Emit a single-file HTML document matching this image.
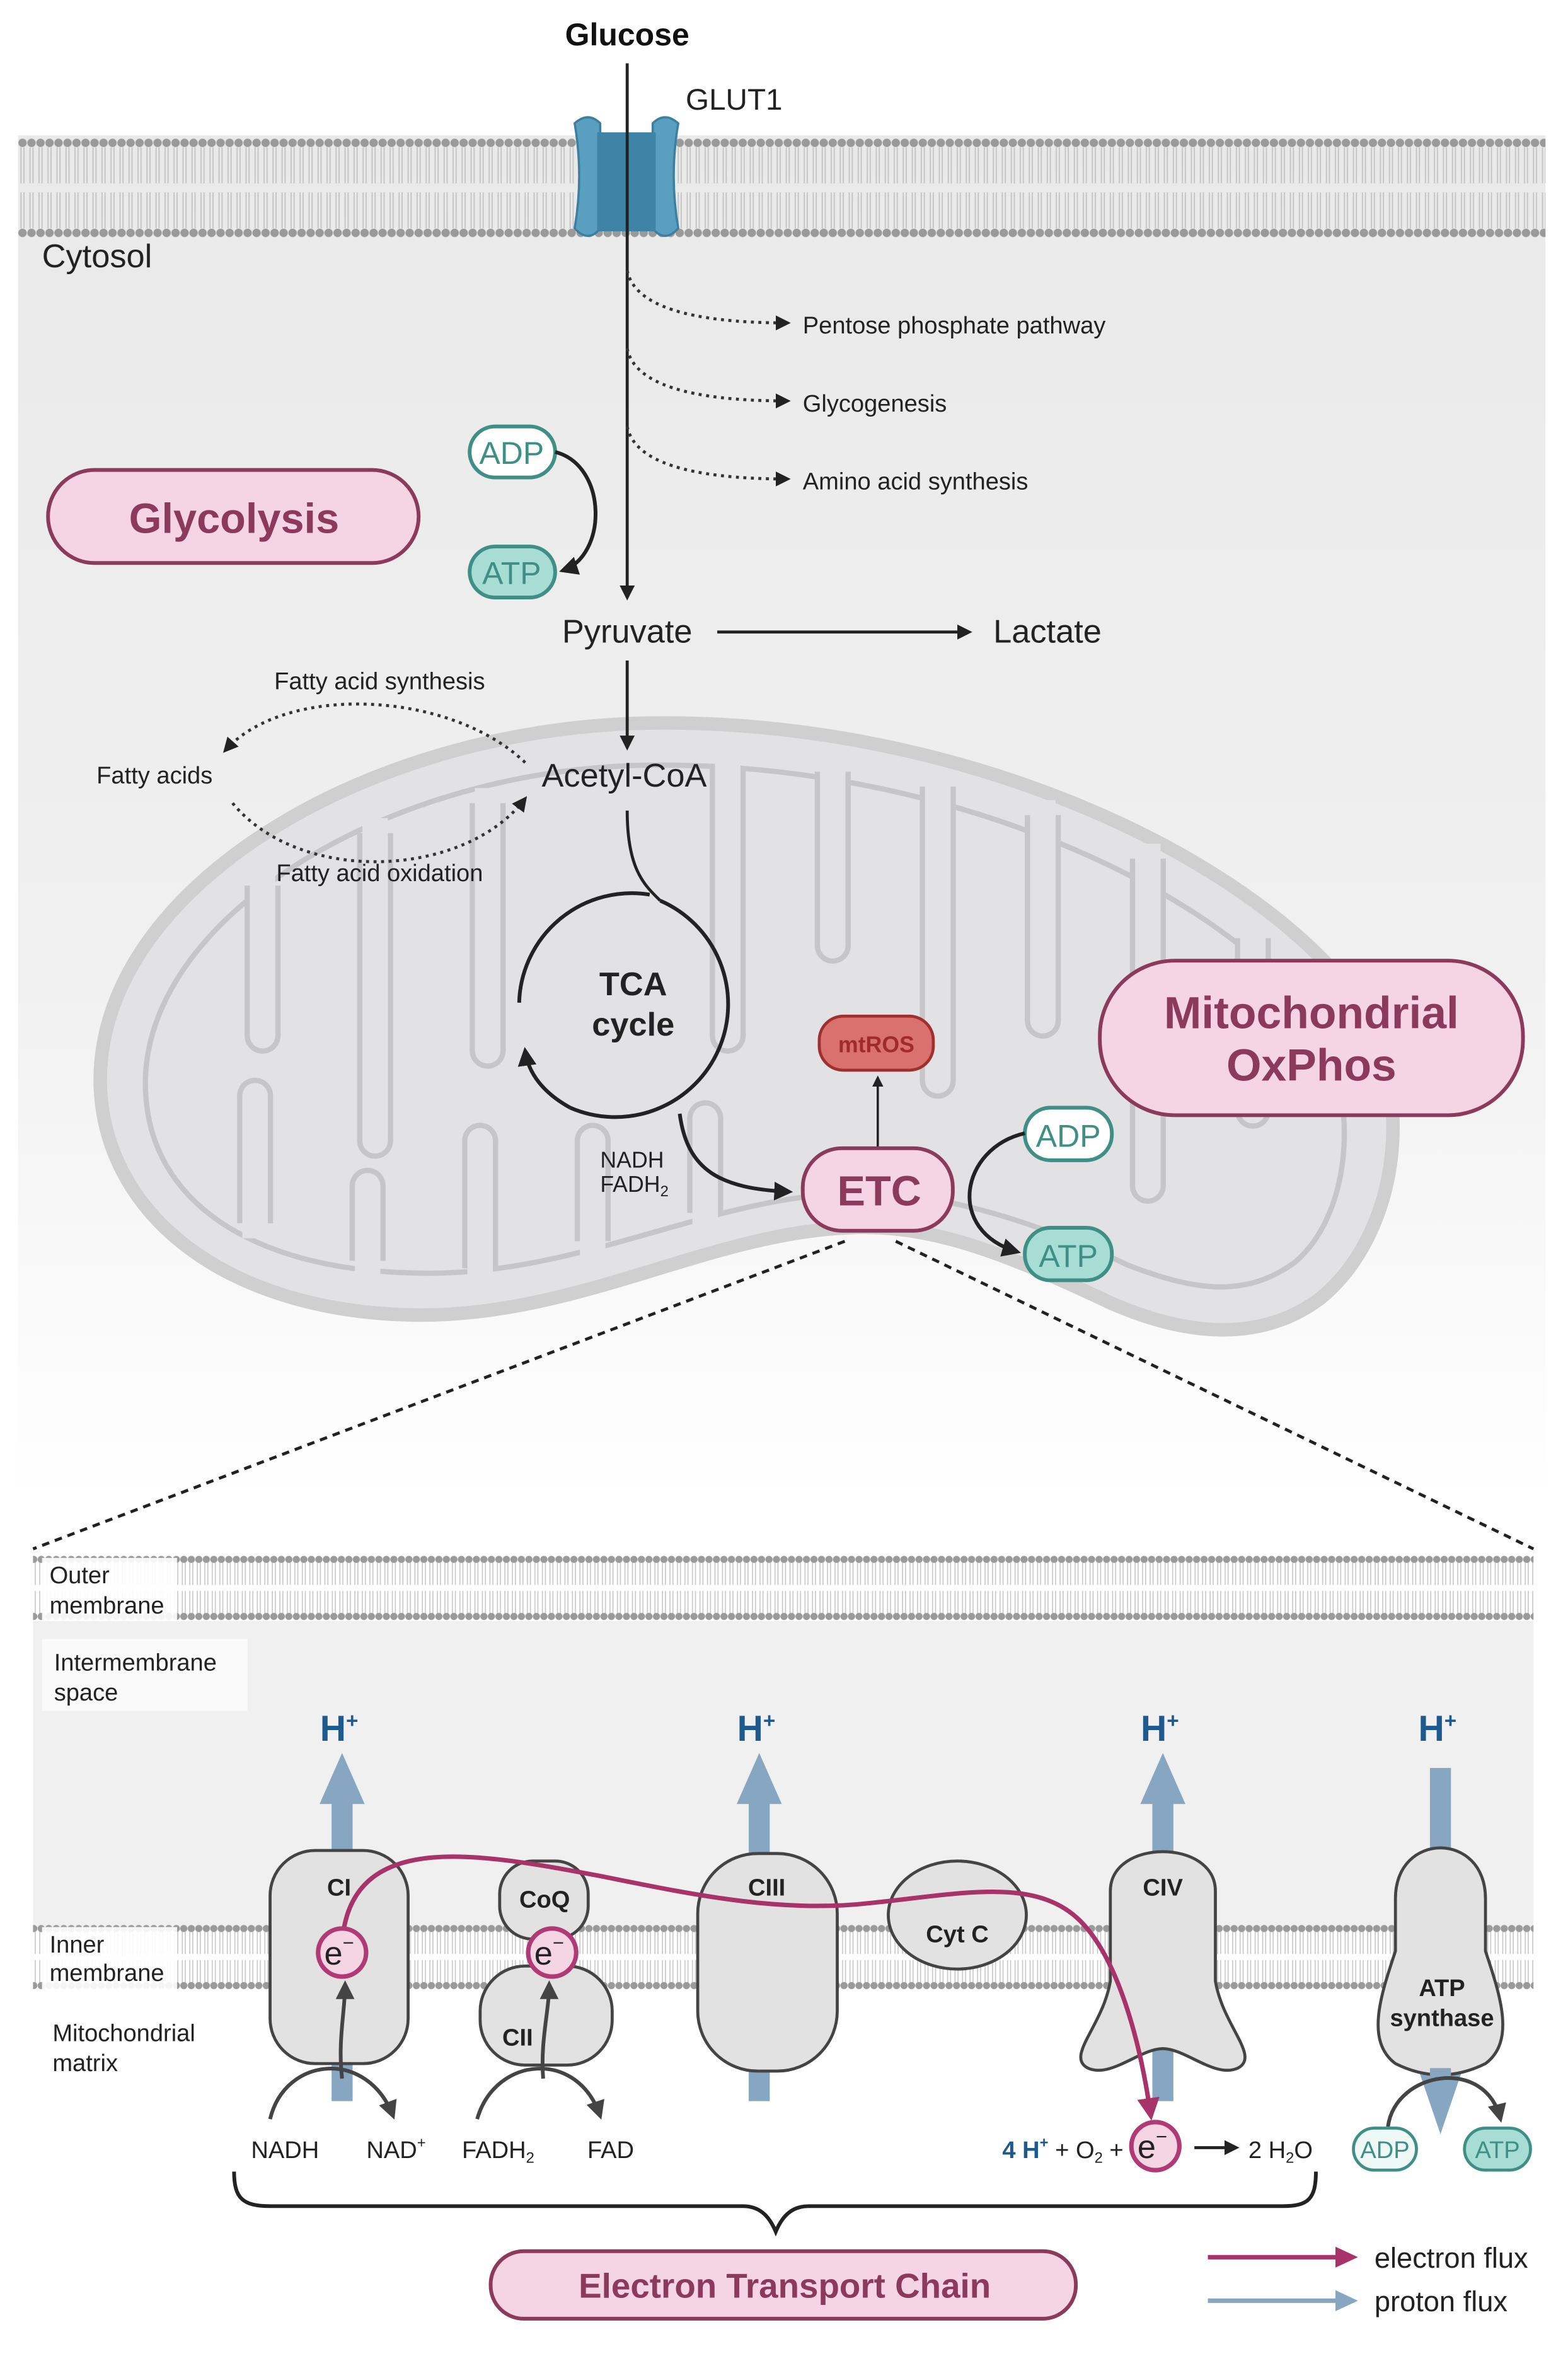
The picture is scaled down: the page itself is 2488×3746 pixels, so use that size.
<!DOCTYPE html>
<html><head><meta charset="utf-8">
<style>
html,body{margin:0;padding:0;background:#fff;}
svg{display:block;}
text{font-family:"Liberation Sans",sans-serif;}
</style></head>
<body>
<svg width="2488" height="3746" viewBox="0 0 1045 1573" xmlns="http://www.w3.org/2000/svg">
<defs>
<linearGradient id="cyto" x1="0" y1="0" x2="0" y2="1">
<stop offset="0" stop-color="#e9e9e9"/><stop offset="0.6" stop-color="#f0f0f0"/><stop offset="1" stop-color="#ffffff"/>
</linearGradient>
<pattern id="lipid" x="0" y="90" width="6" height="70" patternUnits="userSpaceOnUse">
<circle cx="3" cy="5" r="2.8" fill="#9a9a9a"/>
<line x1="2" y1="8" x2="2" y2="32" stroke="#c4c4c4" stroke-width="0.8"/>
<line x1="4" y1="8" x2="4" y2="32" stroke="#c4c4c4" stroke-width="0.8"/>
<line x1="2" y1="38" x2="2" y2="62" stroke="#c4c4c4" stroke-width="0.8"/>
<line x1="4" y1="38" x2="4" y2="62" stroke="#c4c4c4" stroke-width="0.8"/>
<circle cx="3" cy="65" r="2.8" fill="#9a9a9a"/>
</pattern>
<pattern id="lipidA" x="0" y="1035" width="5" height="46" patternUnits="userSpaceOnUse">
<circle cx="2.5" cy="4" r="2.4" fill="#9a9a9a"/>
<line x1="1.5" y1="6" x2="1.5" y2="21" stroke="#c8c8c8" stroke-width="0.7"/>
<line x1="3.5" y1="6" x2="3.5" y2="21" stroke="#c8c8c8" stroke-width="0.7"/>
<line x1="1.5" y1="25" x2="1.5" y2="40" stroke="#c8c8c8" stroke-width="0.7"/>
<line x1="3.5" y1="25" x2="3.5" y2="40" stroke="#c8c8c8" stroke-width="0.7"/>
<circle cx="2.5" cy="42" r="2.4" fill="#9a9a9a"/>
</pattern>
<pattern id="lipidB" x="0" y="1281" width="5" height="46" patternUnits="userSpaceOnUse">
<circle cx="2.5" cy="4" r="2.4" fill="#9a9a9a"/>
<line x1="1.5" y1="6" x2="1.5" y2="21" stroke="#c8c8c8" stroke-width="0.7"/>
<line x1="3.5" y1="6" x2="3.5" y2="21" stroke="#c8c8c8" stroke-width="0.7"/>
<line x1="1.5" y1="25" x2="1.5" y2="40" stroke="#c8c8c8" stroke-width="0.7"/>
<line x1="3.5" y1="25" x2="3.5" y2="40" stroke="#c8c8c8" stroke-width="0.7"/>
<circle cx="2.5" cy="42" r="2.4" fill="#9a9a9a"/>
</pattern>
<marker id="ahs" viewBox="0 0 10 10" refX="8" refY="5" markerWidth="5" markerHeight="5" orient="auto"><path d="M0,0 L10,5 L0,10 z" fill="#222"/></marker>
<marker id="ahg" viewBox="0 0 10 10" refX="8" refY="5" markerWidth="5" markerHeight="5" orient="auto"><path d="M0,0 L10,5 L0,10 z" fill="#444"/></marker>
<marker id="ahm" viewBox="0 0 10 10" refX="8" refY="5" markerWidth="5" markerHeight="5" orient="auto"><path d="M0,0 L10,5 L0,10 z" fill="#a8336b"/></marker>
</defs>

<!-- cytosol -->
<rect x="12" y="90" width="1018" height="910" fill="url(#cyto)"/>
<rect x="12" y="90" width="1018" height="70" fill="url(#lipid)"/>

<!-- GLUT1 -->
<path d="M383,82 Q392,74 400,82 L400,152 Q392,162 383,152 Q389,117 383,82 Z" fill="#5a9fc0" stroke="#3d7fa0" stroke-width="1.5"/>
<path d="M452,82 Q443,74 435,82 L435,152 Q443,162 452,152 Q446,117 452,82 Z" fill="#5a9fc0" stroke="#3d7fa0" stroke-width="1.5"/>
<rect x="398" y="88" width="39" height="66" fill="#3f84a6"/>
<text x="418" y="30" font-size="21" font-weight="bold" text-anchor="middle" fill="#111">Glucose</text>
<text x="457" y="73" font-size="20" fill="#222">GLUT1</text>
<text x="28" y="178" font-size="22" fill="#222">Cytosol</text>

<line x1="418" y1="42" x2="418" y2="398" stroke="#222" stroke-width="2" marker-end="url(#ahs)"/>

<g fill="none" stroke="#333" stroke-width="2" stroke-dasharray="2,3">
<path d="M418,180 Q425,215 525,215" marker-end="url(#ahs)"/>
<path d="M418,232 Q425,267 525,267" marker-end="url(#ahs)"/>
<path d="M418,284 Q425,319 525,319" marker-end="url(#ahs)"/>
</g>
<text x="535" y="222" font-size="16" fill="#222">Pentose phosphate pathway</text>
<text x="535" y="274" font-size="16" fill="#222">Glycogenesis</text>
<text x="535" y="326" font-size="16" fill="#222">Amino acid synthesis</text>

<rect x="313" y="284" width="57" height="34" rx="17" fill="#fff" stroke="#3f8f86" stroke-width="2.5"/>
<text x="341" y="309" font-size="21" text-anchor="middle" fill="#3f8f86">ADP</text>
<rect x="313" y="364" width="57" height="34" rx="17" fill="#a8ddd6" stroke="#3f8f86" stroke-width="2.5"/>
<text x="341" y="389" font-size="21" text-anchor="middle" fill="#3f8f86">ATP</text>
<path d="M370,301 C405,310 405,370 375,380" fill="none" stroke="#222" stroke-width="2.5" marker-end="url(#ahs)"/>

<rect x="32" y="313" width="247" height="62" rx="31" fill="#f5d5e3" stroke="#8b3a5c" stroke-width="2.5"/>
<text x="156" y="355" font-size="28" font-weight="bold" text-anchor="middle" fill="#8b3a5c">Glycolysis</text>

<text x="418" y="428" font-size="22" text-anchor="middle" fill="#222">Pyruvate</text>
<line x1="478" y1="421" x2="646" y2="421" stroke="#222" stroke-width="2" marker-end="url(#ahs)"/>
<text x="662" y="428" font-size="22" fill="#222">Lactate</text>

<!-- mitochondrion -->
<path d="M67,727 C60,600 230,490 420,482 C620,475 820,560 900,660 C945,720 935,820 880,865 C840,895 790,890 740,868 C670,835 620,815 565,818 C470,822 380,880 270,876 C150,872 72,810 67,727 Z" fill="#e2e2e4" stroke="#cfcfcf" stroke-width="9"/>
<path d="M97,727 C92,617 247,517 420,510 C610,504 798,582 872,674 C908,726 902,808 863,841 C830,865 796,860 752,843 C682,810 620,793 565,795 C470,798 380,853 272,848 C167,845 100,800 97,727 Z" fill="none" stroke="#c6c6c8" stroke-width="3.5"/>
<!-- fingers: gray band -->
<g stroke="#c6c6c8" stroke-width="24" fill="none">
<line x1="175" y1="590" x2="175" y2="690"/>
<line x1="250" y1="555" x2="250" y2="760"/>
<line x1="325" y1="535" x2="325" y2="700"/>
<line x1="485" y1="512" x2="485" y2="690"/>
<line x1="555" y1="514" x2="555" y2="630"/>
<line x1="625" y1="524" x2="625" y2="720"/>
<line x1="695" y1="543" x2="695" y2="680"/>
<line x1="765" y1="572" x2="765" y2="790"/>
<line x1="835" y1="625" x2="835" y2="740"/>
<line x1="170" y1="815" x2="170" y2="730"/>
<line x1="245" y1="840" x2="245" y2="790"/>
<line x1="320" y1="845" x2="320" y2="760"/>
<line x1="395" y1="827" x2="395" y2="760"/>
<line x1="470" y1="808" x2="470" y2="745"/>
</g>
<g fill="#c6c6c8">
<circle cx="175" cy="690" r="12"/><circle cx="250" cy="760" r="12"/><circle cx="325" cy="700" r="12"/>
<circle cx="485" cy="690" r="12"/><circle cx="555" cy="630" r="12"/><circle cx="625" cy="720" r="12"/>
<circle cx="695" cy="680" r="12"/><circle cx="765" cy="790" r="12"/><circle cx="835" cy="740" r="12"/>
<circle cx="170" cy="730" r="12"/><circle cx="245" cy="790" r="12"/><circle cx="320" cy="760" r="12"/>
<circle cx="395" cy="760" r="12"/><circle cx="470" cy="745" r="12"/>
</g>
<g stroke="#e2e2e4" stroke-width="17" fill="none">
<line x1="175" y1="580" x2="175" y2="690"/>
<line x1="250" y1="545" x2="250" y2="760"/>
<line x1="325" y1="525" x2="325" y2="700"/>
<line x1="485" y1="502" x2="485" y2="690"/>
<line x1="555" y1="504" x2="555" y2="630"/>
<line x1="625" y1="514" x2="625" y2="720"/>
<line x1="695" y1="533" x2="695" y2="680"/>
<line x1="765" y1="562" x2="765" y2="790"/>
<line x1="835" y1="615" x2="835" y2="740"/>
<line x1="170" y1="825" x2="170" y2="730"/>
<line x1="245" y1="852" x2="245" y2="790"/>
<line x1="320" y1="857" x2="320" y2="760"/>
<line x1="395" y1="838" x2="395" y2="760"/>
<line x1="470" y1="818" x2="470" y2="745"/>
</g>
<g fill="#e2e2e4">
<circle cx="175" cy="690" r="8.5"/><circle cx="250" cy="760" r="8.5"/><circle cx="325" cy="700" r="8.5"/>
<circle cx="485" cy="690" r="8.5"/><circle cx="555" cy="630" r="8.5"/><circle cx="625" cy="720" r="8.5"/>
<circle cx="695" cy="680" r="8.5"/><circle cx="765" cy="790" r="8.5"/><circle cx="835" cy="740" r="8.5"/>
<circle cx="170" cy="730" r="8.5"/><circle cx="245" cy="790" r="8.5"/><circle cx="320" cy="760" r="8.5"/>
<circle cx="395" cy="760" r="8.5"/><circle cx="470" cy="745" r="8.5"/>
</g>

<!-- fatty acids -->
<g fill="none" stroke="#333" stroke-width="2" stroke-dasharray="2,3">
<path d="M350,508 C300,460 190,455 150,500" marker-end="url(#ahs)"/>
<path d="M155,535 C200,590 310,585 350,532" marker-end="url(#ahs)"/>
</g>
<text x="253" y="459" font-size="16" text-anchor="middle" fill="#222">Fatty acid synthesis</text>
<text x="103" y="522" font-size="16" text-anchor="middle" fill="#222">Fatty acids</text>
<text x="253" y="587" font-size="16" text-anchor="middle" fill="#222">Fatty acid oxidation</text>

<line x1="418" y1="440" x2="418" y2="498" stroke="#222" stroke-width="2" marker-end="url(#ahs)"/>
<text x="416" y="524" font-size="22" text-anchor="middle" fill="#222">Acetyl-CoA</text>

<!-- TCA -->
<path d="M418,540 C418,580 430,590 440,600" fill="none" stroke="#222" stroke-width="2"/>
<path d="M440,600 A75,75 0 1 1 380,738" fill="none" stroke="#222" stroke-width="2.5"/>
<path d="M346,668 A75,75 0 0 1 433,596" fill="none" stroke="#222" stroke-width="2.5"/>
<path d="M380,738 C362,728 352,715 350,700" fill="none" stroke="#222" stroke-width="2.5" marker-end="url(#ahs)"/>
<text x="422" y="663" font-size="22" font-weight="bold" text-anchor="middle" fill="#222">TCA</text>
<text x="422" y="690" font-size="22" font-weight="bold" text-anchor="middle" fill="#222">cycle</text>

<text x="400" y="778" font-size="15" fill="#222">NADH</text>
<text x="400" y="794" font-size="15" fill="#222">FADH<tspan font-size="10" dy="3">2</tspan></text>
<path d="M453,742 C458,780 480,792 526,794" fill="none" stroke="#222" stroke-width="2.5" marker-end="url(#ahs)"/>

<rect x="546" y="677" width="76" height="36" rx="16" fill="#d9716f" stroke="#a03030" stroke-width="2"/>
<text x="584" y="701" font-size="15" font-weight="bold" text-anchor="middle" fill="#a02b2b">mtROS</text>
<line x1="585" y1="765" x2="585" y2="718" stroke="#222" stroke-width="1.5" marker-end="url(#ahs)"/>

<rect x="535" y="765" width="100" height="55" rx="26" fill="#f5d5e3" stroke="#8b3a5c" stroke-width="2.5"/>
<text x="586" y="803" font-size="28" font-weight="bold" text-anchor="middle" fill="#8b3a5c">ETC</text>

<rect x="683" y="738" width="58" height="35" rx="17" fill="#fff" stroke="#3f8f86" stroke-width="2.5"/>
<text x="712" y="764" font-size="21" text-anchor="middle" fill="#3f8f86">ADP</text>
<rect x="683" y="818" width="58" height="35" rx="17" fill="#a8ddd6" stroke="#3f8f86" stroke-width="2.5"/>
<text x="712" y="844" font-size="21" text-anchor="middle" fill="#3f8f86">ATP</text>
<path d="M683,755 C640,765 630,820 678,834" fill="none" stroke="#222" stroke-width="2.5" marker-end="url(#ahs)"/>

<rect x="733" y="640" width="282" height="103" rx="50" fill="#f5d5e3" stroke="#8b3a5c" stroke-width="2.5"/>
<text x="874" y="685" font-size="30" font-weight="bold" text-anchor="middle" fill="#8b3a5c">Mitochondrial</text>
<text x="874" y="720" font-size="30" font-weight="bold" text-anchor="middle" fill="#8b3a5c">OxPhos</text>

<line x1="563" y1="827" x2="22" y2="1032" stroke="#222" stroke-width="2" stroke-dasharray="5,4"/>
<line x1="597" y1="827" x2="1022" y2="1032" stroke="#222" stroke-width="2" stroke-dasharray="5,4"/>

<!-- bottom panel -->
<rect x="22" y="1080" width="1000" height="205" fill="#f0f0f0"/>
<rect x="22" y="1035" width="1000" height="46" fill="url(#lipidA)"/>
<rect x="22" y="1281" width="1000" height="46" fill="url(#lipidB)"/>
<rect x="28" y="1038" width="90" height="42" fill="#fff" opacity="0.9"/>
<text x="33" y="1055" font-size="16" fill="#222">Outer</text>
<text x="33" y="1075" font-size="16" fill="#222">membrane</text>
<rect x="28" y="1092" width="137" height="48" fill="#fafafa"/>
<text x="36" y="1113" font-size="16" fill="#222">Intermembrane</text>
<text x="36" y="1133" font-size="16" fill="#222">space</text>
<rect x="28" y="1284" width="90" height="42" fill="#fff" opacity="0.9"/>
<text x="33" y="1301" font-size="16" fill="#222">Inner</text>
<text x="33" y="1320" font-size="16" fill="#222">membrane</text>
<text x="35" y="1360" font-size="16" fill="#222">Mitochondrial</text>
<text x="35" y="1380" font-size="16" fill="#222">matrix</text>

<g fill="#86a6c2">
<rect x="221" y="1200" width="14" height="200"/><polygon points="213,1202 243,1202 228,1168"/>
<rect x="499" y="1200" width="14" height="200"/><polygon points="491,1202 521,1202 506,1168"/>
<rect x="768" y="1200" width="14" height="200"/><polygon points="760,1202 790,1202 775,1168"/>
<rect x="953" y="1178" width="14" height="200"/><polygon points="945,1378 975,1378 960,1422"/>
</g>
<g font-size="24" font-weight="bold" fill="#1f5a8f" text-anchor="middle">
<text x="226" y="1160">H<tspan font-size="14" dy="-9">+</tspan></text>
<text x="504" y="1160">H<tspan font-size="14" dy="-9">+</tspan></text>
<text x="773" y="1160">H<tspan font-size="14" dy="-9">+</tspan></text>
<text x="958" y="1160">H<tspan font-size="14" dy="-9">+</tspan></text>
</g>

<g fill="#e2e2e2" stroke="#444" stroke-width="2">
<rect x="180" y="1233" width="92" height="142" rx="30"/>
<rect x="320" y="1310" width="88" height="66" rx="30"/>
<rect x="333" y="1240" width="59" height="52" rx="22"/>
<rect x="465" y="1235" width="93" height="145" rx="40"/>
<ellipse cx="638" cy="1276" rx="46" ry="36"/>
<path d="M740,1260 C740,1225 810,1225 810,1260 L810,1320 C815,1350 840,1370 825,1378 C810,1385 790,1365 775,1365 C760,1365 740,1385 725,1378 C710,1370 735,1350 740,1320 Z"/>
<path d="M930,1265 C930,1220 990,1220 990,1265 L990,1300 C1000,1330 1010,1360 990,1375 C970,1385 950,1385 930,1375 C910,1360 920,1330 930,1300 Z"/>
</g>
<rect x="953" y="1378" width="14" height="10" fill="#86a6c2"/>
<g font-size="16" font-weight="bold" fill="#222" text-anchor="middle">
<text x="226" y="1263">CI</text>
<text x="363" y="1271">CoQ</text>
<text x="345" y="1363">CII</text>
<text x="511" y="1263">CIII</text>
<text x="638" y="1294">Cyt C</text>
<text x="775" y="1263">CIV</text>
<text x="961" y="1330">ATP</text>
<text x="961" y="1350">synthase</text>
</g>

<path d="M229,1286 C240,1220 320,1235 400,1250 C460,1262 520,1275 580,1268 C640,1262 690,1250 720,1280 C745,1305 760,1360 767,1410" fill="none" stroke="#a8336b" stroke-width="3" marker-end="url(#ahm)"/>

<g fill="none" stroke="#444" stroke-width="2.5">
<path d="M180,1412 C190,1370 245,1365 262,1410" marker-end="url(#ahg)"/>
<path d="M228,1385 C225,1360 230,1340 230,1322" marker-end="url(#ahg)"/>
<path d="M318,1412 C330,1370 385,1365 400,1410" marker-end="url(#ahg)"/>
<path d="M362,1385 C360,1360 366,1340 366,1322" marker-end="url(#ahg)"/>
<path d="M925,1417 C930,1380 990,1370 1000,1412" marker-end="url(#ahg)"/>
</g>

<g fill="#f5d5e3" stroke="#b03a75" stroke-width="3">
<circle cx="228" cy="1301" r="16"/><circle cx="368" cy="1301" r="16"/><circle cx="770" cy="1430" r="16"/>
</g>
<g font-size="22" fill="#222" text-anchor="middle">
<text x="226" y="1309">e<tspan font-size="13" dy="-10">−</tspan></text>
<text x="366" y="1309">e<tspan font-size="13" dy="-10">−</tspan></text>
<text x="768" y="1438">e<tspan font-size="13" dy="-10">−</tspan></text>
</g>

<g font-size="16" fill="#222" text-anchor="middle">
<text x="190" y="1438">NADH</text>
<text x="264" y="1438">NAD<tspan font-size="10" dy="-7">+</tspan></text>
<text x="332" y="1438">FADH<tspan font-size="10" dy="3">2</tspan></text>
<text x="407" y="1438">FAD</text>
</g>
<text x="668" y="1438" font-size="16" fill="#222"><tspan fill="#1f5a8f" font-weight="bold">4 H<tspan font-size="10" dy="-7">+</tspan></tspan><tspan dy="7"> + O</tspan><tspan font-size="10" dy="3">2</tspan><tspan dy="-3"> +</tspan></text>
<line x1="796" y1="1431" x2="824" y2="1431" stroke="#222" stroke-width="2" marker-end="url(#ahs)"/>
<text x="832" y="1438" font-size="16" fill="#222">2 H<tspan font-size="10" dy="3">2</tspan><tspan dy="-3">O</tspan></text>

<rect x="902" y="1418" width="42" height="28" rx="14" fill="#eef8f6" stroke="#3f8f86" stroke-width="2"/>
<text x="923" y="1438" font-size="16" text-anchor="middle" fill="#3f8f86">ADP</text>
<rect x="976" y="1418" width="44" height="28" rx="14" fill="#a8ddd6" stroke="#3f8f86" stroke-width="2"/>
<text x="998" y="1438" font-size="16" text-anchor="middle" fill="#3f8f86">ATP</text>

<path d="M156,1447 C156,1465 162,1470 180,1470 L495,1470 C505,1470 512,1475 517,1487 C522,1475 529,1470 539,1470 L855,1470 C872,1470 877,1465 877,1447" fill="none" stroke="#222" stroke-width="2.5"/>

<rect x="327" y="1500" width="390" height="45" rx="22" fill="#f5d5e3" stroke="#8b3a5c" stroke-width="2.5"/>
<text x="523" y="1531" font-size="23" font-weight="bold" text-anchor="middle" fill="#8b3a5c">Electron Transport Chain</text>

<line x1="805" y1="1504" x2="893" y2="1504" stroke="#a8336b" stroke-width="3"/>
<polygon points="890,1497 905,1504 890,1511" fill="#a8336b"/>
<line x1="805" y1="1533" x2="893" y2="1533" stroke="#86a6c2" stroke-width="3"/>
<polygon points="890,1526 905,1533 890,1540" fill="#86a6c2"/>
<text x="916" y="1511" font-size="19" fill="#222">electron flux</text>
<text x="916" y="1540" font-size="19" fill="#222">proton flux</text>
</svg>
</body></html>
